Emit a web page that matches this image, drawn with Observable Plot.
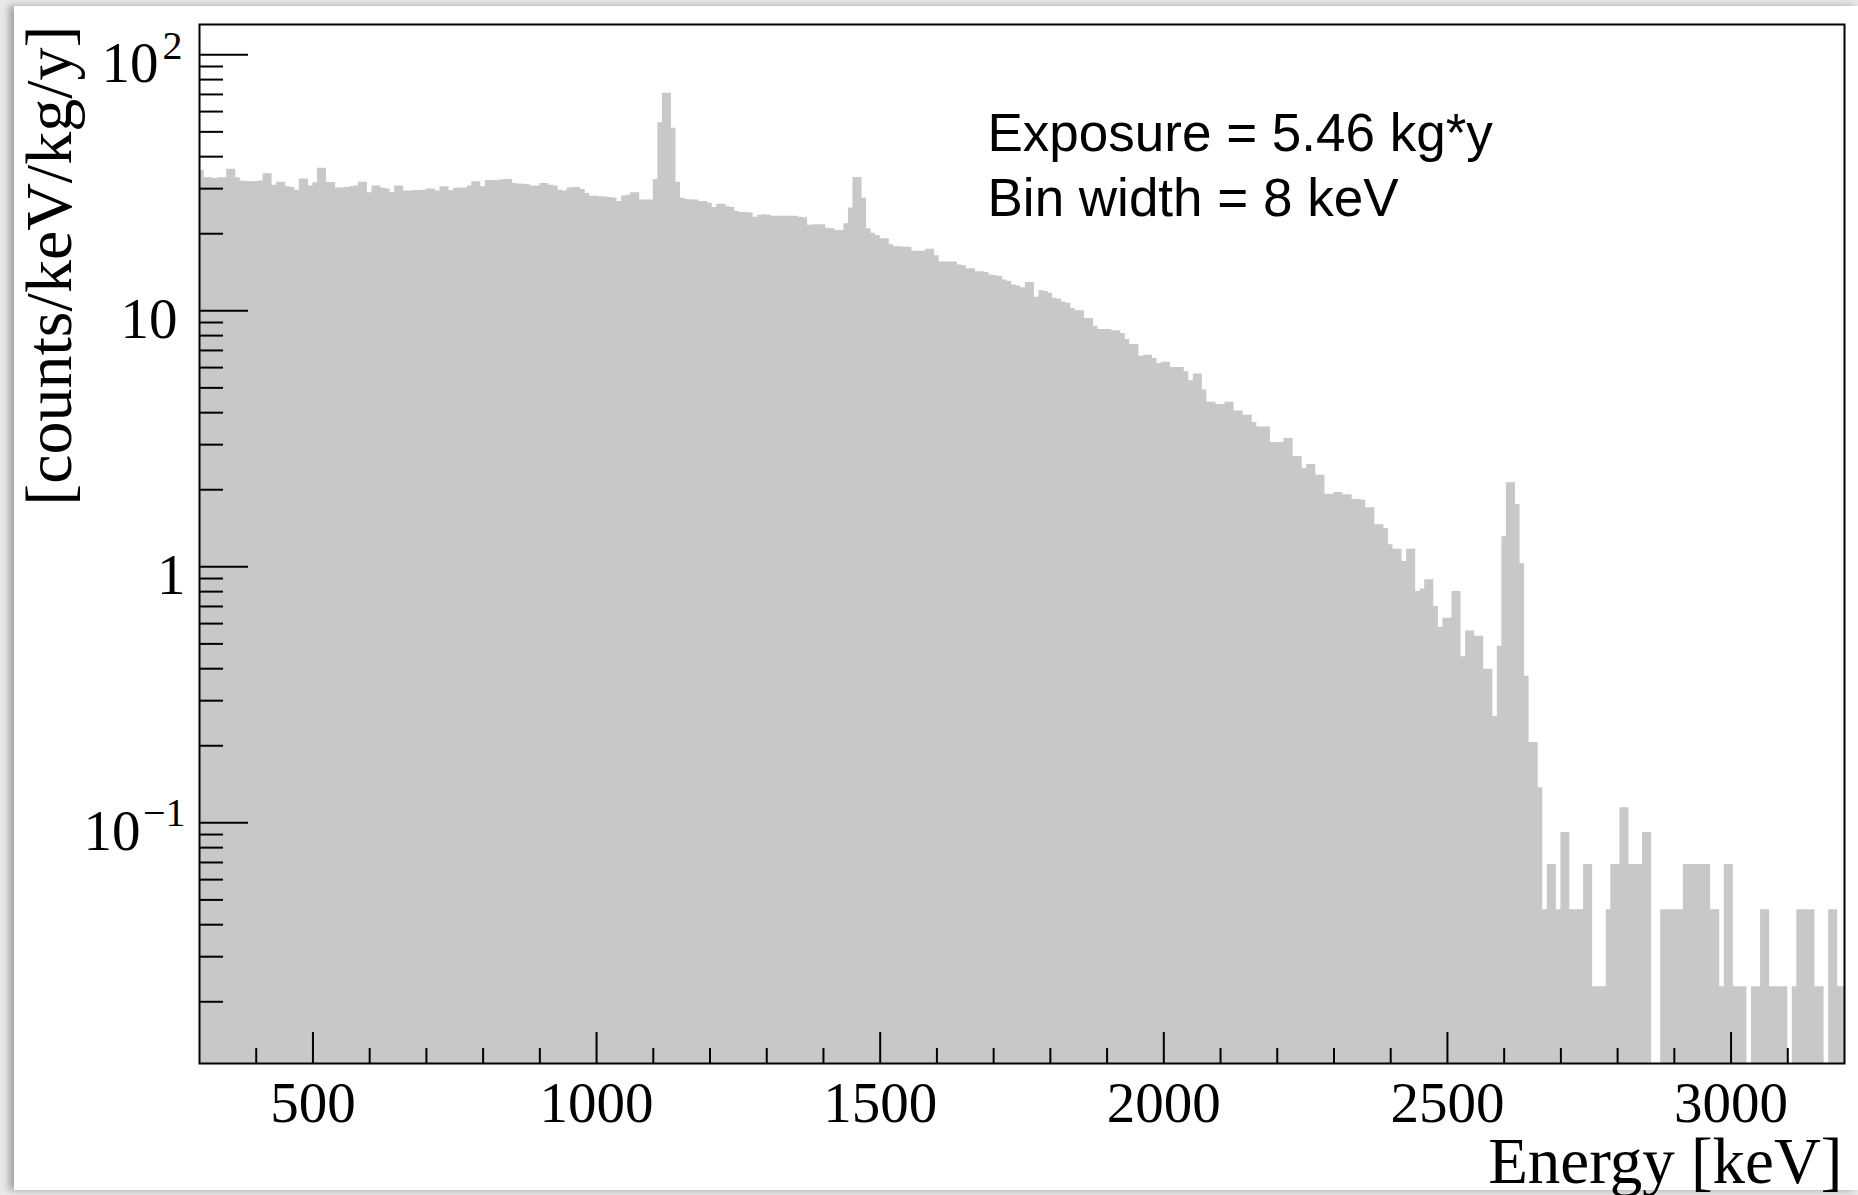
<!DOCTYPE html>
<html>
<head>
<meta charset="utf-8">
<script src="https://cdn.jsdelivr.net/npm/d3@7"></script>
<script src="https://cdn.jsdelivr.net/npm/@observablehq/plot@0.6"></script>
<style>
  html, body { margin: 0; padding: 0; width: 1858px; height: 1195px; overflow: hidden; background: #e8e8e8; }
  #sheet { position: absolute; left: 14px; top: 6px; width: 1844px; height: 1184px; background: #ffffff;
           box-shadow: -5px 0 7px rgba(0, 0, 0, 0.30); }
  #chart { position: absolute; left: 0; top: 0; }
</style>
</head>
<body>
<div id="sheet"></div>
<div id="chart"></div>
<script>
// Energy spectrum, 8 keV bins, rate in counts/keV/kg/y
const energyMin = 300;
const energyMax = 3200;
const binWidth = 8;

// 300 - 1100 keV
const rates300to1100 = [
  35.4, 33.1, 33.1, 32.9, 33.1, 33.1, 35.7, 35.7, 33.1, 32.1,
  32.0, 31.9, 32.0, 32.1, 34.3, 34.3, 30.9, 31.8, 31.8, 30.5,
  30.3, 29.6, 32.7, 32.7, 30.7, 31.6, 36.0, 36.0, 31.7, 31.7,
  30.2, 30.2, 30.3, 30.5, 30.7, 31.8, 31.8, 28.9, 30.7, 30.7,
  30.1, 29.9, 29.0, 30.7, 30.7, 29.4, 29.4, 29.5, 29.5, 29.6,
  29.9, 29.9, 29.4, 30.5, 30.5, 29.5, 30.1, 30.2, 30.2, 30.7,
  31.9, 31.9, 30.5, 32.3, 32.3, 32.2, 32.4, 32.6, 32.6, 31.4,
  31.3, 31.2, 31.1, 30.7, 30.7, 31.4, 31.4, 30.9, 30.7, 29.6,
  29.4, 30.2, 30.3, 30.3, 29.8, 28.7, 28.0, 28.0, 27.9, 27.8,
  27.7, 27.6, 26.7, 28.1, 28.3, 28.9, 28.9, 27.1, 27.1, 27.1
];

// 1100 - 1900 keV (1120 keV and 1461 keV lines)
const rates1100to1900 = [
  32.6, 54.3, 70.7, 70.7, 51.7, 31.8, 27.5, 27.2, 27.1, 27.1,
  26.7, 26.7, 26.3, 25.3, 26.1, 26.1, 25.5, 25.3, 24.4, 24.2,
  24.2, 24.1, 23.2, 23.6, 23.7, 23.6, 23.4, 23.4, 23.4, 23.4,
  23.4, 23.4, 23.2, 23.1, 21.6, 21.7, 21.7, 21.7, 21.0, 20.9,
  20.6, 20.6, 21.9, 25.2, 33.2, 33.2, 27.5, 20.9, 20.1, 19.7,
  19.1, 19.1, 18.1, 17.8, 17.8, 17.7, 17.7, 17.1, 17.1, 17.1,
  17.4, 17.4, 16.4, 15.5, 15.5, 15.5, 15.5, 15.1, 15.0, 14.6,
  14.6, 14.2, 14.2, 14.1, 13.8, 13.7, 13.6, 13.2, 13.0, 12.6,
  12.5, 12.3, 12.9, 12.9, 11.3, 12.0, 11.9, 11.7, 11.2, 11.1,
  10.8, 10.7, 10.2, 10.0, 10.0, 9.34, 9.34, 8.71, 8.46, 8.46
];

// 1900 - 2668 keV (2615 keV line)
const rates1900to2668 = [
  8.46, 8.36, 8.36, 8.16, 7.73, 7.39, 7.39, 6.65, 6.71, 6.71,
  6.51, 6.23, 6.29, 6.29, 6.01, 6.01, 6.01, 5.78, 5.33, 5.66,
  5.66, 4.90, 4.39, 4.39, 4.31, 4.31, 4.39, 4.39, 4.06, 4.06,
  3.91, 3.91, 3.66, 3.52, 3.52, 3.52, 3.06, 3.06, 3.06, 3.17,
  3.17, 2.70, 2.70, 2.42, 2.51, 2.51, 2.28, 2.28, 1.92, 1.92,
  1.95, 1.95, 1.91, 1.91, 1.83, 1.83, 1.82, 1.70, 1.70, 1.46,
  1.46, 1.41, 1.22, 1.17, 1.17, 1.05, 1.17, 1.17, 0.80, 0.82,
  0.89, 0.89, 0.70, 0.58, 0.63, 0.63, 0.80, 0.80, 0.445, 0.561,
  0.561, 0.536, 0.536, 0.398, 0.398, 0.260, 0.490, 1.31, 2.13, 2.13,
  1.75, 1.03, 0.374, 0.206, 0.206, 0.137
];

// 2668 - 3204 keV (a few counts per bin)
const rates2668to3204 = [
  0.0458, 0.0687, 0.0687, 0.0458, 0.0916, 0.0916, 0.0458, 0.0458, 0.0458, 0.0687,
  0.0687, 0.0229, 0.0229, 0.0229, 0.0458, 0.0687, 0.0687, 0.1145, 0.1145, 0.0687,
  0.0687, 0.0687, 0.0916, 0.0916, 0, 0, 0.0458, 0.0458, 0.0458, 0.0458,
  0.0458, 0.0687, 0.0687, 0.0687, 0.0687, 0.0687, 0.0687, 0.0458, 0.0458, 0.0229,
  0.0687, 0.0687, 0.0229, 0.0229, 0.0229, 0, 0.0229, 0.0229, 0.0458, 0.0458,
  0.0229, 0.0229, 0.0229, 0.0229, 0, 0.0229, 0.0458, 0.0458, 0.0458, 0.0458,
  0.0229, 0.0229, 0, 0.0458, 0.0458, 0.0229, 0.0229
];

// Axis ticks and labels
const xMajorTicks = [500, 1000, 1500, 2000, 2500, 3000];
const xMinorTicks = [400, 600, 700, 800, 900, 1100, 1200, 1300, 1400, 1600, 1700, 1800, 1900,
                     2100, 2200, 2300, 2400, 2600, 2700, 2800, 2900, 3100];
const yMajorTicks = [100, 10, 1, 0.1];
const yMinorTicks = [90, 80, 70, 60, 50, 40, 30, 20, 9, 8, 7, 6, 5, 4, 3, 2,
                     0.9, 0.8, 0.7, 0.6, 0.5, 0.4, 0.3, 0.2,
                     0.09, 0.08, 0.07, 0.06, 0.05, 0.04, 0.03, 0.02];
const yTickBase = ["10", "10", "1", "10"];
const yTickExponent = ["2", "", "", "\u22121"];

const xTitle = "Energy [keV]";
const yTitle = "[counts/keV/kg/y]";
const infoLines = ["Exposure = 5.46 kg*y", "Bin width = 8 keV"];

// ---- layout ----
const W = 1858, H = 1195;
const mLeft = 199, mRight = 14, mTop = 24, mBottom = 132;
const plotW = W - mLeft - mRight;
const plotH = H - mTop - mBottom;
const yFloor = 0.01148, yCeil = 131.3;
const serif = "'Liberation Serif', 'Times New Roman', Times, serif";
const sans = "'Liberation Sans', Arial, Helvetica, sans-serif";
const barFill = "#c8c8c8";

const binRates = [...rates300to1100, ...rates1100to1900, ...rates1900to2668, ...rates2668to3204];

// step outline: one vertex per bin left edge plus the closing right edge
const steps = binRates.map((r, i) => ({e: energyMin + i * binWidth, r}));
steps.push({e: energyMin + binRates.length * binWidth, r: binRates[binRates.length - 1]});

const yLabels = yMajorTicks.map((v, i) => ({v, base: yTickBase[i], exp: yTickExponent[i]}));
const byLabel = (b, e) => yLabels.filter(d => d.base === b && d.exp === e);

const tickFont = {fontFamily: serif, fontSize: 57, fill: "black"};
const expFont = {fontFamily: serif, fontSize: 40, fill: "black"};

const chart = Plot.plot({
  width: W,
  height: H,
  marginLeft: mLeft,
  marginRight: mRight,
  marginTop: mTop,
  marginBottom: mBottom,
  style: {background: "transparent", overflow: "visible"},
  x: {type: "linear", domain: [energyMin, energyMax], axis: null},
  y: {type: "log", domain: [yFloor, yCeil], axis: null},
  marks: [
    Plot.areaY(steps, {
      x: "e",
      y1: yFloor,
      y2: d => (d.r > 0 ? d.r : yFloor),
      curve: "step-after",
      fill: barFill,
      clip: true
    }),
    // inward ticks
    Plot.tickX(xMajorTicks, {x: d => d, stroke: "black", strokeWidth: 2, insetTop: plotH - 31}),
    Plot.tickX(xMinorTicks, {x: d => d, stroke: "black", strokeWidth: 2, insetTop: plotH - 15}),
    Plot.tickY(yMajorTicks, {y: d => d, stroke: "black", strokeWidth: 2, insetRight: plotW - 49}),
    Plot.tickY(yMinorTicks, {y: d => d, stroke: "black", strokeWidth: 2, insetRight: plotW - 24}),
    Plot.frame({stroke: "black", strokeWidth: 2}),
    // x tick labels
    Plot.text(xMajorTicks, {x: d => d, text: d => String(d), frameAnchor: "bottom",
      lineAnchor: "bottom", dy: 58, ...tickFont}),
    // y tick labels: mantissa and exponent set separately
    Plot.text(byLabel("10", "2"), {y: "v", text: "base", frameAnchor: "left", textAnchor: "end",
      lineAnchor: "bottom", dx: -41, dy: 27, ...tickFont}),
    Plot.text(byLabel("10", "2"), {y: "v", text: "exp", frameAnchor: "left", textAnchor: "end",
      lineAnchor: "bottom", dx: -17, dy: 4, ...expFont}),
    Plot.text(byLabel("10", ""), {y: "v", text: "base", frameAnchor: "left", textAnchor: "end",
      lineAnchor: "bottom", dx: -22, dy: 27, ...tickFont}),
    Plot.text(byLabel("1", ""), {y: "v", text: "base", frameAnchor: "left", textAnchor: "end",
      lineAnchor: "bottom", dx: -14, dy: 27, ...tickFont}),
    Plot.text(byLabel("10", "\u22121"), {y: "v", text: "base", frameAnchor: "left", textAnchor: "end",
      lineAnchor: "bottom", dx: -59, dy: 27, ...tickFont}),
    Plot.text(byLabel("10", "\u22121"), {y: "v", text: "exp", frameAnchor: "left", textAnchor: "end",
      lineAnchor: "bottom", dx: -14, dy: 3, ...expFont}),
    // axis titles
    Plot.text([xTitle], {text: d => d, frameAnchor: "bottom-right", textAnchor: "end",
      lineAnchor: "bottom", dx: -2, dy: 119, fontFamily: serif, fontSize: 65, fill: "black"}),
    Plot.text([yTitle], {text: d => d, frameAnchor: "top-left", rotate: -90, textAnchor: "end",
      lineAnchor: "bottom", dx: -129, dy: 1, fontFamily: serif, fontSize: 66, fill: "black"}),
    // info box
    Plot.text([infoLines[0]], {text: d => d, frameAnchor: "top-left", textAnchor: "start",
      lineAnchor: "bottom", dx: 788, dy: 126, fontFamily: sans, fontSize: 53, fill: "black"}),
    Plot.text([infoLines[1]], {text: d => d, frameAnchor: "top-left", textAnchor: "start",
      lineAnchor: "bottom", dx: 788, dy: 191, fontFamily: sans, fontSize: 53, fill: "black"})
  ]
});

document.getElementById("chart").append(chart);
</script>
</body>
</html>
